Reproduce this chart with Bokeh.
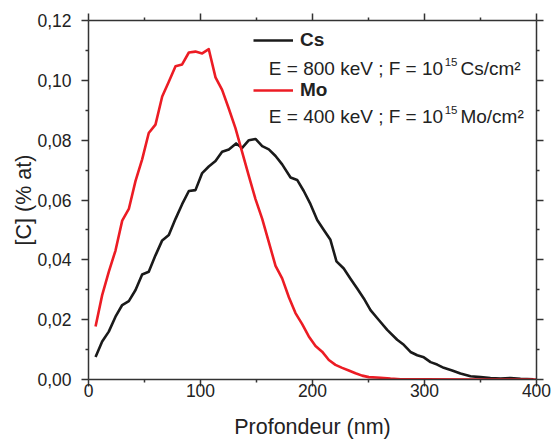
from bokeh.plotting import figure
from bokeh.models import (Range1d, LinearAxis, FixedTicker, CustomJSTickFormatter,
                          Label, Legend, LegendItem)
from bokeh.embed import file_html
from bokeh.resources import INLINE

# ---- data ----
cs_depth = [6.3, 12.2, 18.1, 24.1, 30.1, 36.0, 42.0, 47.9, 53.8, 59.8, 65.8, 71.7, 77.7,
            83.6, 89.6, 95.5, 101.5, 107.4, 113.4, 119.3, 125.3, 131.8, 137.2, 143.2,
            149.1, 155.1, 161.0, 167.0, 172.9, 180.4, 186.3, 192.2, 198.2, 204.2, 210.1,
            216.0, 221.4, 227.9, 233.9, 239.9, 245.8, 251.8, 259.2, 266.7, 275.6, 281.5,
            287.5, 293.5, 299.4, 305.4, 311.3, 317.2, 324.7, 332.1, 341.1, 350.0, 358.9,
            367.9, 376.8, 385.7, 397.3]
cs_conc = [0.0075, 0.0127, 0.0160, 0.0210, 0.0249, 0.0262, 0.0299, 0.0351, 0.0360, 0.0415,
           0.0465, 0.0483, 0.0537, 0.0586, 0.0630, 0.0633, 0.0690, 0.0712, 0.0730, 0.0761,
           0.0769, 0.0789, 0.0774, 0.0800, 0.0804, 0.0780, 0.0769, 0.0747, 0.0719, 0.0675,
           0.0667, 0.0630, 0.0586, 0.0533, 0.0500, 0.0467, 0.0395, 0.0371, 0.0337, 0.0304,
           0.0271, 0.0232, 0.0199, 0.0166, 0.0133, 0.0116, 0.0092, 0.0081, 0.0074, 0.0058,
           0.0050, 0.0039, 0.0030, 0.0020, 0.0011, 0.0008, 0.0005, 0.0003, 0.0005, 0.0002,
           0.0001]

mo_depth = [6.3, 12.2, 18.1, 24.1, 30.1, 36.0, 42.0, 47.9, 53.8, 59.8, 65.8, 71.7, 77.7,
            83.6, 89.6, 95.5, 101.5, 107.4, 113.4, 119.3, 125.3, 131.2, 137.2, 143.2,
            149.1, 155.1, 161.0, 167.0, 172.9, 178.9, 184.8, 190.8, 196.7, 202.7, 208.6,
            214.6, 220.5, 226.5, 232.4, 238.4, 244.3, 250.3, 260.7, 269.6, 278.6, 300.0,
            350.0, 400.0]
mo_conc = [0.0177, 0.0282, 0.0360, 0.0431, 0.0531, 0.0570, 0.0664, 0.0736, 0.0824, 0.0852,
           0.0946, 0.0995, 0.1047, 0.1053, 0.1093, 0.1096, 0.1090, 0.1104, 0.1010, 0.0968,
           0.0905, 0.0840, 0.0760, 0.0680, 0.0603, 0.0537, 0.0459, 0.0380, 0.0338, 0.0275,
           0.0222, 0.0185, 0.0144, 0.0112, 0.0093, 0.0065, 0.0049, 0.0039, 0.0030, 0.0021,
           0.0013, 0.0008, 0.0006, 0.0003, 0.0001, 0.0001, 0.0000, 0.0000]

x_ticks = [0, 100, 200, 300, 400]
x_minor = [50, 150, 250, 350]
y_ticks = [0.0, 0.02, 0.04, 0.06, 0.08, 0.10, 0.12]
y_minor = [0.01, 0.03, 0.05, 0.07, 0.09, 0.11]

series_names = ["Cs", "Mo"]
series_desc = ["E = 800 keV ; F = 10", "E = 400 keV ; F = 10"]
series_exp = ["15", "15"]
series_unit = ["Cs/cm\u00b2", "Mo/cm\u00b2"]

x_title = "Profondeur (nm)"
y_title = "[C] (% at)"

FONT = "Liberation Sans"
AX = "#333333"
TXT = "#222222"
BLACK = "#1a1a1a"
RED = "#ec1c24"

p = figure(width=551, height=441, output_backend="svg", toolbar_location=None,
           x_range=Range1d(0, 400), y_range=Range1d(0, 0.12),
           min_border_left=88, min_border_right=15, min_border_top=20, min_border_bottom=59,
           x_axis_location=None, y_axis_location=None)
p.outline_line_color = None
p.xgrid.visible = False
p.ygrid.visible = False
p.background_fill_color = "white"
p.border_fill_color = "white"

comma_fmt = CustomJSTickFormatter(code="return tick.toFixed(2).replace('.', ',');")
blank_fmt = CustomJSTickFormatter(code="return '';")


def style(ax):
    ax.axis_line_color = AX
    ax.axis_line_width = 1.5
    ax.major_tick_line_color = AX
    ax.minor_tick_line_color = AX
    ax.major_tick_line_width = 1.5
    ax.minor_tick_line_width = 1.5
    ax.major_tick_out = 7
    ax.major_tick_in = 0
    ax.minor_tick_out = 3
    ax.minor_tick_in = 0
    ax.major_label_text_font = FONT
    ax.major_label_text_font_size = "17.5px"
    ax.major_label_text_color = TXT
    ax.axis_label_text_font = FONT
    ax.axis_label_text_font_size = "21.5px"
    ax.axis_label_text_font_style = "normal"
    ax.axis_label_text_color = TXT


xb = LinearAxis(ticker=FixedTicker(ticks=x_ticks, minor_ticks=x_minor), axis_label=x_title)
style(xb)
xb.major_label_standoff = -3
xb.axis_label_standoff = 15
p.add_layout(xb, "below")

xt = LinearAxis(ticker=FixedTicker(ticks=x_ticks, minor_ticks=x_minor), formatter=blank_fmt)
style(xt)
xt.major_label_standoff = 0
p.add_layout(xt, "above")

yl = LinearAxis(ticker=FixedTicker(ticks=y_ticks, minor_ticks=y_minor), formatter=comma_fmt,
                axis_label=y_title)
style(yl)
yl.major_label_standoff = 10
yl.axis_label_standoff = -2
p.add_layout(yl, "left")

yr = LinearAxis(ticker=FixedTicker(ticks=y_ticks, minor_ticks=y_minor), formatter=blank_fmt)
style(yr)
yr.major_label_standoff = 0
p.add_layout(yr, "right")

cs_r = p.line(cs_depth, cs_conc, line_color=BLACK, line_width=2.6, line_join="round")
mo_r = p.line(mo_depth, mo_conc, line_color=RED, line_width=2.6, line_join="round")

legend = Legend(items=[LegendItem(label=series_names[0], renderers=[cs_r]),
                       LegendItem(label=series_names[1], renderers=[mo_r])],
                location=(165, 278), orientation="vertical",
                glyph_width=40, glyph_height=20, label_height=20, label_standoff=7,
                spacing=28, padding=0, margin=0,
                border_line_color=None, background_fill_alpha=0,
                label_text_font=FONT, label_text_font_size="19px",
                label_text_font_style="bold", label_text_color=TXT)
p.add_layout(legend, "center")

# descriptive lines (text annotations, positioned in data space)
desc_x = 161.0
exp_x = 318.0
unit_x = 332.1
desc_y = [0.1038, 0.0879]
exp_y = [0.1060, 0.0902]
for i in range(2):
    p.add_layout(Label(x=desc_x, y=desc_y[i], text=series_desc[i], text_font=FONT,
                       text_font_size="19px", text_color=TXT, text_baseline="alphabetic"))
    p.add_layout(Label(x=exp_x, y=exp_y[i], text=series_exp[i], text_font=FONT,
                       text_font_size="11.5px", text_color=TXT, text_baseline="alphabetic"))
    p.add_layout(Label(x=unit_x, y=desc_y[i], text=series_unit[i], text_font=FONT,
                       text_font_size="19px", text_color=TXT, text_baseline="alphabetic"))

open("out.html", "w").write(file_html(p, INLINE))
